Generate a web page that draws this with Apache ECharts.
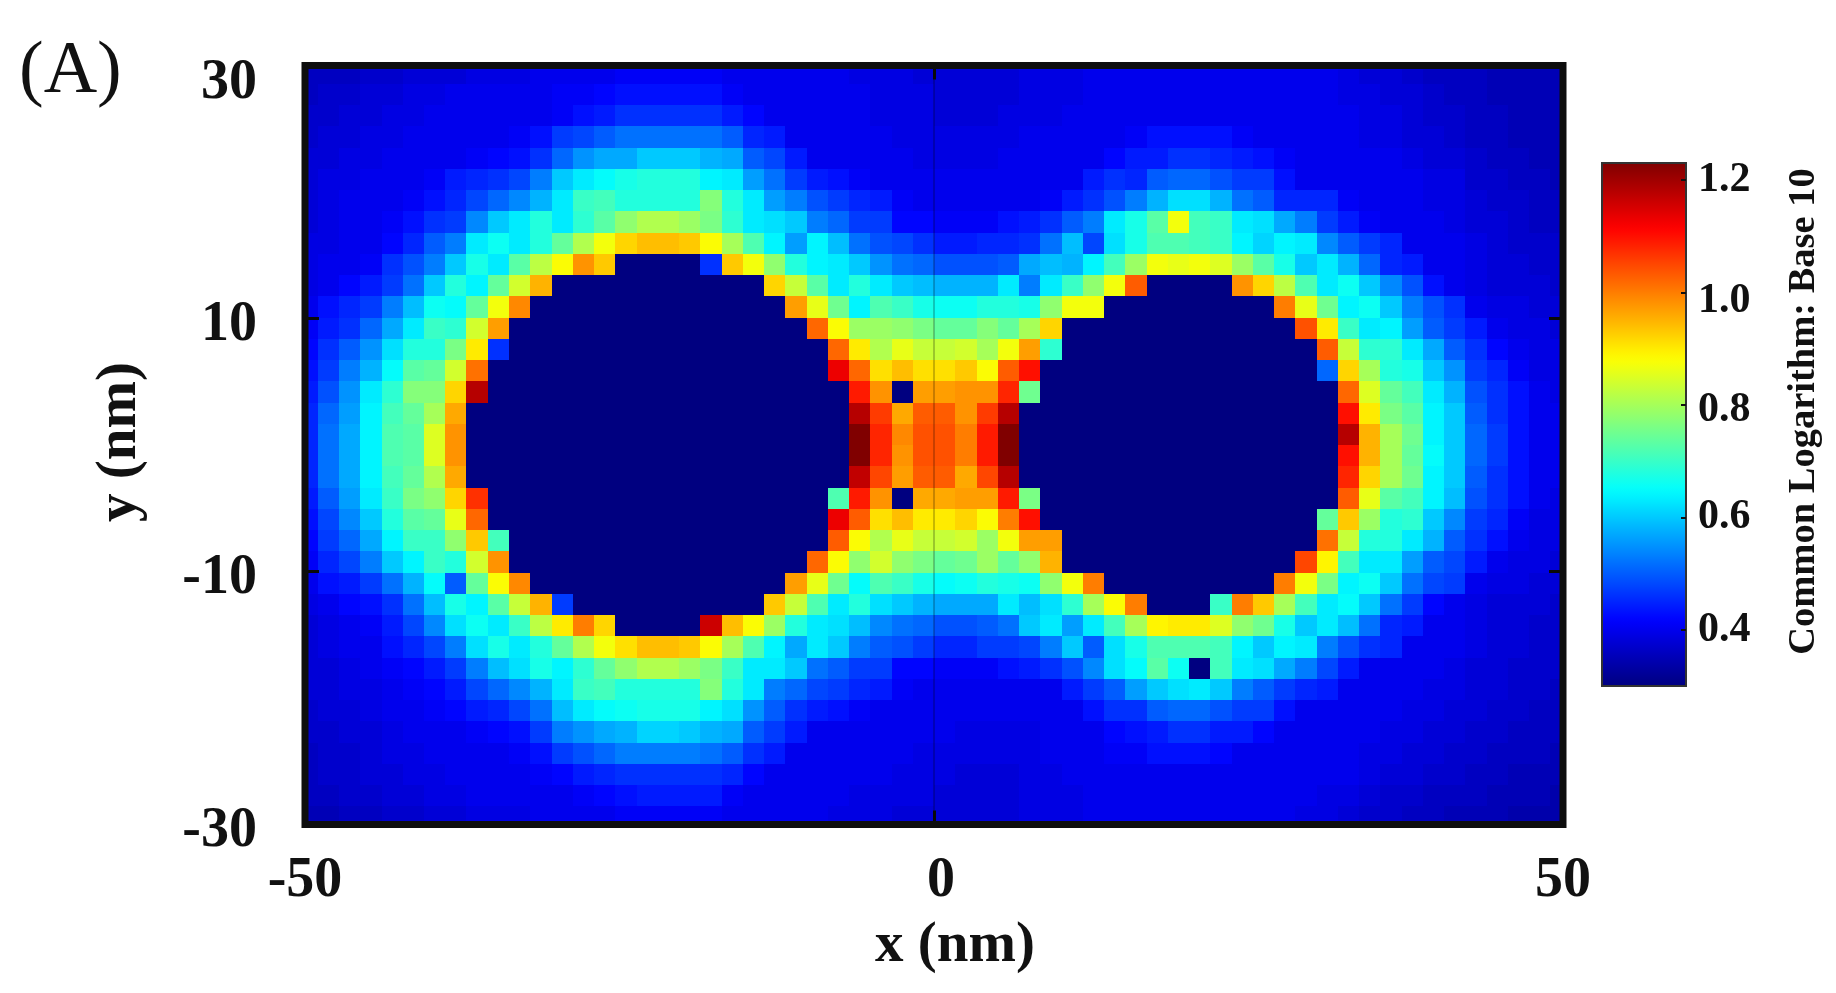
<!DOCTYPE html>
<html><head><meta charset="utf-8">
<style>html,body{margin:0;padding:0;background:#fff}#c{width:1836px;height:993px}</style>
<script src="https://cdn.jsdelivr.net/npm/echarts@6/dist/echarts.min.js"></script>
</head><body><div id="c"></div>
<script>
const xTicks = [-50, 0, 50];
const yTicks = [-30, -10, 10, 30];
const colorTicks = [0.4, 0.6, 0.8, 1.0, 1.2];
// Common logarithm values x100, read cell by cell; 60 columns left to right, rows top to bottom
const upperRows = [
[36,36,36,37,37,38,38,38,39,39,39,40,40,40,40,41,41,41,41, 41,40,40,40,40,40,40,39,39,39,38,38,38,38,38,39,39,39, 40,40,40,40,40,40,40,40,40,40,40,40,39,38,38,37,36,36, 36,35,35,35,35],
[36,37,37,38,38,39,39,40,40,40,40,40,41,41,42,43,43,43,43, 43,41,40,40,40,40,40,40,39,39,39,38,38,38,38,39,39,39, 40,40,40,40,40,40,40,40,40,40,40,40,39,39,38,38,37,36, 36,35,35,35,35],
[37,37,38,38,39,39,40,40,40,40,40,40,41,43,44,46,46,46,46, 46,44,42,40,40,40,40,40,39,39,39,38,38,38,39,39,39,40, 40,40,40,40,40,40,40,40,40,40,40,40,40,39,39,38,37,37, 36,36,35,35,35],
[37,38,38,39,39,40,40,40,40,40,41,43,47,48,50,52,52,52,52, 52,50,45,44,40,40,40,40,40,39,39,39,39,39,39,40,40,40, 40,40,41,43,43,43,43,41,40,40,40,40,40,39,39,38,38,37, 36,36,35,35,35],
[38,38,39,39,40,40,40,40,41,42,43,46,51,55,57,57,60,60,60, 58,57,50,48,44,40,40,40,40,40,39,39,39,39,40,40,40,40, 40,42,44,44,46,46,45,44,43,41,40,40,40,40,40,39,38,38, 37,36,36,35,35],
[38,39,39,40,40,40,41,44,45,46,48,53,60,63,65,67,68,68,68, 64,63,56,52,47,44,43,41,40,40,40,40,40,40,40,40,40,40, 44,46,45,50,51,51,49,47,47,43,40,40,40,40,40,40,39,39, 37,37,36,36,35],
[38,39,40,40,40,41,43,45,48,51,54,58,63,70,71,68,68,68,68, 77,68,63,56,53,49,47,45,44,41,40,40,40,40,40,40,41,44, 46,49,53,58,62,62,58,52,50,45,45,45,41,40,40,40,39,39, 38,37,37,36,36],
[38,39,40,40,41,43,46,47,54,60,63,68,63,69,73,78,81,81,79, 76,69,63,62,60,53,51,47,47,42,42,41,41,41,43,44,46,50, 53,63,67,73,87,71,70,63,62,57,53,47,44,41,40,40,40,39, 38,38,37,36,36],
[39,39,40,40,42,45,50,53,63,66,63,68,74,81,87,92,94,94,93, 88,80,72,64,56,64,59,52,49,48,46,44,44,45,45,46,52,59, 48,62,67,72,72,71,70,64,61,64,63,54,50,47,45,40,40,40, 39,38,37,37,37],
[39,40,40,41,46,49,53,60,67,63,73,82,88,98,93,30,30,30,30, 46,93,87,78,68,64,63,60,55,52,51,49,49,49,50,57,59,58, 64,71,79,87,86,87,85,79,73,67,60,63,58,51,45,44,40,40, 39,38,38,37,37],
[39,40,42,44,47,52,60,68,64,74,84,95,30,30,30,30,30,30,30, 30,30,30,92,83,73,63,68,63,60,59,58,58,58,63,53,63,70, 78,87,103,30,30,30,30,98,92,82,72,63,66,60,54,49,43,40, 39,38,38,38,37],
[40,43,45,47,53,59,66,65,74,87,99,30,30,30,30,30,30,30,30, 30,30,30,30,97,86,75,64,72,70,67,66,66,68,68,67,78,87, 87,30,30,30,30,30,30,30,30,100,86,75,64,66,60,53,49,46, 40,39,39,38,38],
[41,44,46,51,57,63,70,69,84,97,30,30,30,30,30,30,30,30,30, 30,30,30,30,30,102,88,79,79,78,76,74,74,77,74,80,92,30, 30,30,30,30,30,30,30,30,30,30,104,90,70,63,64,56,50,47, 44,40,39,39,38],
[42,46,50,55,62,68,68,76,90,46,30,30,30,30,30,30,30,30,30, 30,30,30,30,30,30,102,90,81,86,83,83,84,80,87,97,69,30, 30,30,30,30,30,30,30,30,30,30,30,103,83,69,69,63,57,50, 46,42,40,39,39],
[43,47,53,58,65,73,74,84,101,30,30,30,30,30,30,30,30,30,30, 30,30,30,30,30,30,113,102,91,94,91,91,93,88,103,110,30,30, 30,30,30,30,30,30,30,30,30,30,30,51,92,80,68,67,60,55, 47,45,41,39,39],
[44,49,55,63,69,77,77,92,118,30,30,30,30,30,30,30,30,30,30, 30,30,30,30,30,30,30,109,98,30,97,97,98,98,108,75,30,30, 30,30,30,30,30,30,30,30,30,30,30,30,102,85,74,71,63,58, 49,46,43,40,39],
[45,51,56,64,71,74,80,96,30,30,30,30,30,30,30,30,30,30,30, 30,30,30,30,30,30,30,118,106,96,103,103,98,106,118,30,30,30, 30,30,30,30,30,30,30,30,30,30,30,30,110,90,76,73,64,60, 50,46,43,40,40],
[45,52,57,64,72,73,85,98,30,30,30,30,30,30,30,30,30,30,30, 30,30,30,30,30,30,30,124,108,99,104,104,100,109,124,30,30,30, 30,30,30,30,30,30,30,30,30,30,30,30,118,95,80,75,64,60, 51,47,43,40,40]
];
const lowerRows = [
[45,52,57,64,72,73,85,98,30,30,30,30,30,30,30,30,30,30,30, 30,30,30,30,30,30,30,124,108,98,104,104,100,109,124,30,30,30, 30,30,30,30,30,30,30,30,30,30,30,30,110,95,80,74,65,60, 51,47,43,40,40],
[45,52,57,64,71,74,81,96,30,30,30,30,30,30,30,30,30,30,30, 30,30,30,30,30,30,30,117,105,97,103,103,96,105,118,30,30,30, 30,30,30,30,30,30,30,30,30,30,30,30,108,92,80,75,64,60, 50,46,43,40,40],
[44,50,56,63,70,76,78,92,107,30,30,30,30,30,30,30,30,30,30, 30,30,30,30,30,30,72,109,98,30,96,96,97,97,109,76,30,30, 30,30,30,30,30,30,30,30,30,30,30,30,103,86,73,71,64,59, 49,46,43,40,39],
[43,48,54,60,68,73,74,86,102,30,30,30,30,30,30,30,30,30,30, 30,30,30,30,30,30,113,103,91,94,90,90,92,88,100,110,30,30, 30,30,30,30,30,30,30,30,30,30,30,74,93,79,68,69,60,54, 47,45,41,39,39],
[42,47,51,57,64,70,70,78,93,71,30,30,30,30,30,30,30,30,30, 30,30,30,30,30,30,103,88,81,86,83,83,84,79,87,97,97,30, 30,30,30,30,30,30,30,30,30,30,30,101,83,68,68,63,58,50, 46,43,40,39,39],
[41,45,48,53,60,64,70,68,84,98,30,30,30,30,30,30,30,30,30, 30,30,30,30,30,102,88,78,84,78,76,74,75,79,74,78,95,30, 30,30,30,30,30,30,30,30,30,30,105,89,71,63,63,56,50,48, 44,40,39,39,38],
[40,43,44,47,52,58,65,50,74,88,99,30,30,30,30,30,30,30,30, 30,30,30,30,97,86,75,65,72,70,67,65,66,68,67,66,78,87, 100,30,30,30,30,30,30,30,30,100,87,76,64,66,60,52,48,47, 40,39,39,38,38],
[39,40,42,43,46,52,59,67,64,73,83,95,47,30,30,30,30,30,30, 30,30,30,93,83,72,63,68,62,60,58,57,57,57,63,59,62,69, 80,88,100,30,30,30,70,100,93,80,71,63,65,60,52,47,42,40, 39,38,38,38,37],
[38,39,40,41,44,48,54,62,66,63,70,82,90,100,92,30,30,30,30, 116,94,88,79,68,63,62,59,54,52,51,49,49,50,52,60,63,56, 63,71,80,89,90,90,85,78,75,67,60,63,59,52,45,44,40,40, 39,38,38,37,37],
[38,39,40,40,43,45,48,53,62,67,63,68,74,81,87,91,94,94,93, 88,80,72,64,57,63,60,53,50,49,47,45,45,47,47,48,53,60, 50,62,67,72,72,72,71,64,60,64,63,53,49,46,45,40,40,40, 39,38,38,37,37],
[38,38,39,40,41,42,44,47,53,59,62,67,64,69,74,78,81,81,79, 76,70,63,63,60,52,50,47,47,42,42,41,41,41,43,44,46,49, 54,62,65,73,66,30,71,63,62,57,53,48,44,40,40,40,40,39, 38,38,37,37,37],
[38,38,39,39,40,41,42,44,48,51,54,58,63,70,71,68,68,68,68, 77,68,63,53,51,48,47,45,44,41,40,40,40,40,40,40,40,44, 47,50,56,60,62,63,60,53,50,47,45,44,40,40,40,40,39,39, 38,38,37,37,36],
[37,38,38,39,40,40,41,42,44,45,48,52,59,63,65,66,67,67,67, 64,62,55,50,46,44,43,41,40,40,40,40,40,40,40,40,40,40, 43,46,46,50,51,51,49,47,47,43,40,40,40,40,40,39,39,38, 38,37,37,36,36],
[37,37,38,38,39,40,40,40,41,42,43,47,53,55,57,58,61,61,60, 58,57,50,47,44,40,40,40,40,40,40,40,39,39,39,39,40,40, 40,42,43,44,46,46,44,44,42,40,40,40,40,40,39,39,38,38, 37,37,36,36,36],
[36,37,37,38,39,39,40,40,40,40,41,43,47,49,51,53,53,53,53, 52,50,46,44,40,40,40,40,40,40,39,39,39,39,39,39,40,40, 40,41,41,43,43,43,42,40,40,40,40,40,40,39,39,38,38,37, 37,36,36,36,35],
[36,37,37,38,38,39,39,40,40,40,40,41,42,44,45,46,46,46,46, 46,45,42,40,40,40,40,40,40,39,39,39,38,38,38,39,39,40, 40,40,40,40,40,40,40,40,40,40,40,40,40,39,38,38,37,37, 36,36,35,35,35],
[36,36,37,37,38,38,39,39,40,40,40,40,40,41,42,43,44,44,44, 44,41,40,40,40,40,40,39,39,39,39,38,38,38,38,39,39,39, 40,40,40,40,40,40,40,40,40,40,40,39,39,38,37,37,36,36, 36,35,35,35,34],
[35,35,36,36,37,37,38,38,39,39,39,40,40,40,40,41,41,41,41, 41,40,40,40,40,40,39,39,39,38,38,38,38,38,38,39,39,39, 40,40,40,40,40,40,40,40,40,40,39,39,38,37,37,36,36,35, 35,35,34,34,34]
];
const cellValues = upperRows.concat(lowerRows);

// MATLAB jet(64) colour map
const jet = [];
for (let i = 0; i < 64; i++) {
  const t = i / 63, c = a => Math.round(255 * Math.min(1, Math.max(0, 1.5 - Math.abs(4 * t - a))));
  jet.push(`rgb(${c(3)},${c(2)},${c(1)})`);
}
const cellW = 21.25 / (1258 / 100), cellH = 21.25 / (759 / 60);
const data = [];
cellValues.forEach((row, r) => row.forEach((v, c) => {
  data.push([(c - 30 + 0.5) * cellW, (18 - r - 0.5) * cellH, v / 100]);
}));
const serif = '"Liberation Serif","Times New Roman",serif';
const chart = echarts.init(document.getElementById('c'), null, {renderer: 'canvas'});
const tickStyle = {color: '#0a0a0a', width: 3};
const labelBase = {fontFamily: serif, fontWeight: 'bold', color: '#111'};
chart.setOption({
  animation: false,
  backgroundColor: '#fff',
  title: {text: '(A)', left: 14, top: 31, textStyle: {fontFamily: serif, fontSize: 74, fontWeight: 'normal', color: '#111'}},
  grid: [
    {left: 305, top: 65.5, width: 1258, height: 759, show: true, borderColor: '#0d0d0d', borderWidth: 7, backgroundColor: 'transparent', z: 5},
    {left: 1602, top: 163, width: 84, height: 523, show: true, borderColor: '#333', borderWidth: 2, backgroundColor: 'transparent', z: 6}
  ],
  xAxis: [
    {type: 'value', gridIndex: 0, min: -50, max: 50, interval: 50, position: 'bottom', z: 4,
     axisLine: {show: false, onZero: false},
     axisTick: {show: true, inside: true, length: 14, lineStyle: tickStyle},
     splitLine: {show: true, lineStyle: {color: 'rgba(0,0,0,0.22)', width: 2}},
     axisLabel: {margin: 29, ...labelBase, fontSize: 56, showMinLabel: true, showMaxLabel: true,
       formatter: v => v === 0 ? '{z|0}' : String(v),
       rich: {z: {...labelBase, fontSize: 56, padding: [0, 0, 0, 14]}}},
     name: 'x (nm)', nameLocation: 'middle', nameGap: 93,
     nameTextStyle: {...labelBase, fontSize: 57, padding: [0, 0, 0, 42]}},
    {type: 'value', gridIndex: 0, min: -50, max: 50, interval: 50, position: 'top', z: 4,
     axisLine: {show: false, onZero: false}, axisLabel: {show: false}, splitLine: {show: false},
     axisTick: {show: true, inside: true, length: 14, lineStyle: tickStyle}},
    {type: 'value', gridIndex: 1, min: 0, max: 1, show: false}
  ],
  yAxis: [
    {type: 'value', gridIndex: 0, min: -30, max: 30, position: 'left', z: 4,
     axisLine: {show: false, onZero: false}, splitLine: {show: false},
     axisTick: {show: true, inside: true, length: 14, lineStyle: tickStyle, customValues: yTicks},
     axisLabel: {margin: 48, customValues: yTicks, ...labelBase, fontSize: 56, padding: [14, 0, 0, 0],
       formatter: v => v === 30 ? '{t|30}' : String(v),
       rich: {t: {...labelBase, fontSize: 56, padding: [22, 0, 0, 0]}}},
     name: 'y (nm)', nameLocation: 'middle', nameGap: 156, nameRotate: 90,
     nameTextStyle: {...labelBase, fontSize: 57, padding: [0, 0, 0, 6]}},
    {type: 'value', gridIndex: 0, min: -30, max: 30, position: 'right', z: 4,
     axisLine: {show: false, onZero: false}, splitLine: {show: false}, axisLabel: {show: false},
     axisTick: {show: true, inside: true, length: 14, lineStyle: tickStyle, customValues: yTicks}},
    {type: 'value', gridIndex: 1, min: 0.3, max: 1.23, position: 'right', z: 7,
     axisLine: {show: false, onZero: false}, splitLine: {show: false},
     axisTick: {show: true, inside: true, length: 5, lineStyle: {color: '#111', width: 2}, customValues: colorTicks},
     axisLabel: {margin: 12, customValues: colorTicks, ...labelBase, fontSize: 42,
       formatter: v => {
         const s = v.toFixed(1);
         return s === '1.0' ? '{d|1.0}' : s === '0.8' ? '{e|0.8}' : s;
       },
       rich: {d: {...labelBase, fontSize: 42, padding: [18, 0, 0, 0]}, e: {...labelBase, fontSize: 42, padding: [10, 0, 0, 0]}}},
     name: 'Common Logarithm: Base 10', nameLocation: 'middle', nameGap: 99, nameRotate: 90,
     nameTextStyle: {...labelBase, fontSize: 38.5, padding: [0, 0, 0, 26]}}
  ],
  visualMap: {
    type: 'continuous', seriesIndex: 0, dimension: 2, min: 0.3, max: 1.23,
    left: 1602, top: 163, itemWidth: 84, itemHeight: 523, calculable: false, realtime: false,
    showLabel: false, hoverLink: false, padding: 0, z: 2,
    inRange: {color: jet}, outOfRange: {color: jet[0]}
  },
  series: [{
    type: 'custom', coordinateSystem: 'cartesian2d', xAxisIndex: 0, yAxisIndex: 0, z: 1,
    encode: {x: 0, y: 1}, data: data,
    renderItem: function (params, api) {
      const xc = api.value(0), yc = api.value(1);
      const p0 = api.coord([xc - cellW / 2, yc + cellH / 2]);
      const p1 = api.coord([xc + cellW / 2, yc - cellH / 2]);
      const x0 = Math.round(p0[0]), y0 = Math.round(p0[1]), x1 = Math.round(p1[0]), y1 = Math.round(p1[1]);
      const rect = echarts.graphic.clipRectByRect(
        {x: x0, y: y0, width: x1 - x0, height: y1 - y0},
        {x: params.coordSys.x, y: params.coordSys.y, width: params.coordSys.width, height: params.coordSys.height});
      return rect && {type: 'rect', shape: rect, style: {fill: api.visual('color')}};
    }
  }]
});
</script></body></html>
